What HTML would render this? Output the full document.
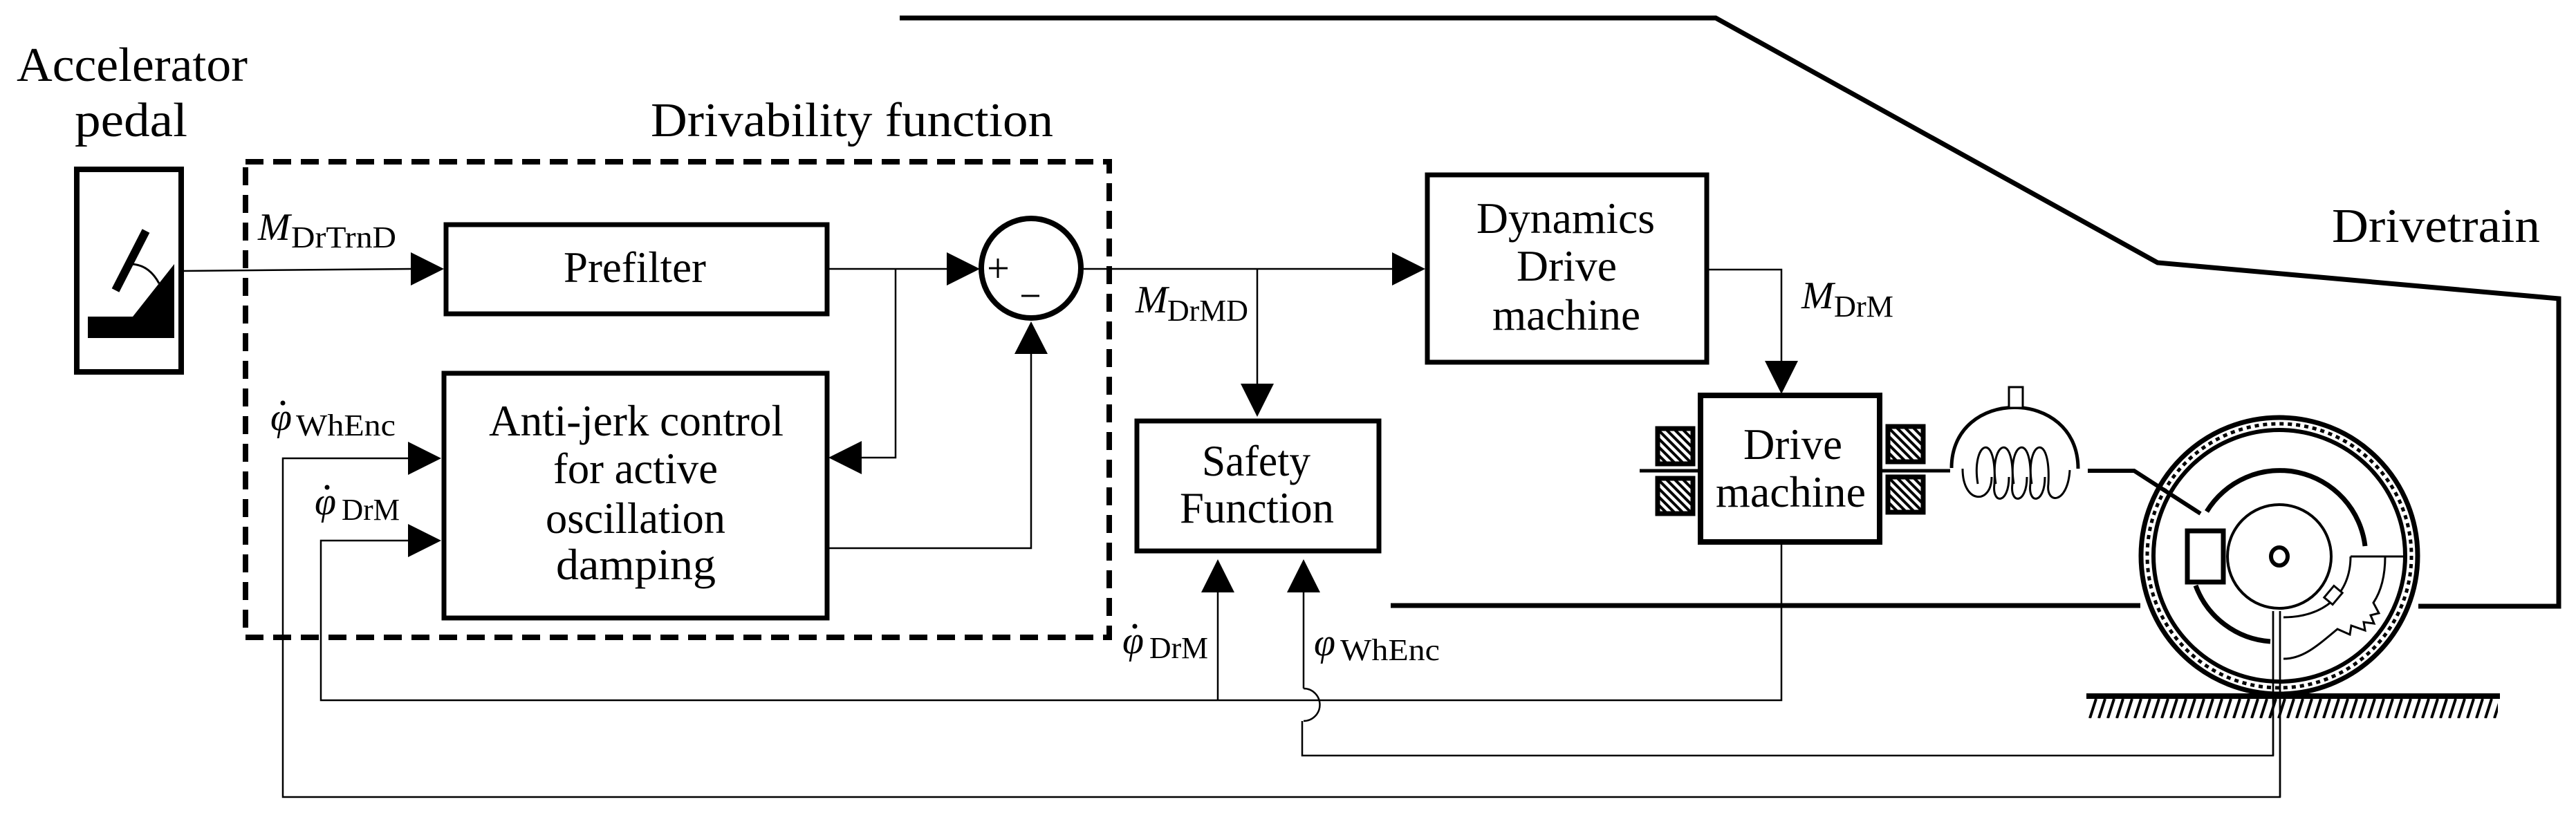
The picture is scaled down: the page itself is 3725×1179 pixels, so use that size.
<!DOCTYPE html>
<html><head><meta charset="utf-8"><style>
html,body{margin:0;padding:0;background:#fff;}
svg{display:block;}
text{font-family:"Liberation Serif",serif;fill:#000;}
.m{font-family:"Liberation Serif",serif;font-style:italic;}
.s{font-family:"Liberation Serif",serif;}
</style></head><body>
<svg width="3725" height="1179" viewBox="0 0 3725 1179" xmlns="http://www.w3.org/2000/svg">
<defs>
<pattern id="hatch" patternUnits="userSpaceOnUse" x="3020" y="1011" width="13" height="28">
<line x1="11" y1="0" x2="2" y2="28" stroke="#000" stroke-width="4"/>
</pattern>
<pattern id="stat" patternUnits="userSpaceOnUse" width="12" height="12">
<rect width="12" height="12" fill="#fff"/>
<path d="M0,0 L12,12 M-6,6 L6,18 M6,-6 L18,6" stroke="#000" stroke-width="4"/>
</pattern>
</defs>

<!-- Text -->
<text x="24" y="117" font-size="70" textLength="334" lengthAdjust="spacingAndGlyphs">Accelerator</text>
<text x="108" y="197" font-size="70" textLength="163" lengthAdjust="spacingAndGlyphs">pedal</text>
<text x="941" y="197" font-size="70" textLength="582" lengthAdjust="spacingAndGlyphs">Drivability function</text>
<text x="3372" y="350" font-size="70" textLength="301" lengthAdjust="spacingAndGlyphs">Drivetrain</text>

<!-- Pedal -->
<rect x="111" y="245" width="151" height="293" fill="none" stroke="#000" stroke-width="8"/>
<polygon points="127,458 192,458 252,382 252,489 127,489" fill="#000"/>
<line x1="167" y1="420" x2="211" y2="334" stroke="#000" stroke-width="12"/>
<path d="M188,382 Q215,382 230,410" fill="none" stroke="#000" stroke-width="3"/>

<!-- Dashed box -->
<rect x="355" y="234" width="1249" height="688" fill="none" stroke="#000" stroke-width="8" stroke-dasharray="26,14"/>

<!-- Prefilter -->
<rect x="645" y="325" width="551" height="129" fill="none" stroke="#000" stroke-width="7"/>
<text x="815" y="408" font-size="64" textLength="206" lengthAdjust="spacingAndGlyphs">Prefilter</text>

<!-- Anti-jerk -->
<rect x="642" y="540" width="554" height="354" fill="none" stroke="#000" stroke-width="7"/>
<text x="707" y="630" font-size="64" textLength="426" lengthAdjust="spacingAndGlyphs">Anti-jerk control</text>
<text x="800" y="699" font-size="64" textLength="238" lengthAdjust="spacingAndGlyphs">for active</text>
<text x="789" y="771" font-size="64" textLength="260" lengthAdjust="spacingAndGlyphs">oscillation</text>
<text x="804" y="838" font-size="64" textLength="231" lengthAdjust="spacingAndGlyphs">damping</text>

<!-- Sum -->
<circle cx="1491" cy="388" r="72" fill="none" stroke="#000" stroke-width="8"/>
<line x1="1430" y1="388" x2="1457" y2="388" stroke="#000" stroke-width="3"/>
<line x1="1443" y1="374" x2="1443" y2="402" stroke="#000" stroke-width="3"/>
<line x1="1477" y1="428" x2="1503" y2="428" stroke="#000" stroke-width="3"/>

<!-- Connectors -->
<g stroke="#000" stroke-width="2.5" fill="none">
<line x1="262" y1="392" x2="595" y2="389"/>
<line x1="1196" y1="389" x2="1370" y2="389"/>
<polyline points="1295,389 1295,662 1245,662"/>
<polyline points="1196,793 1491,793 1491,505"/>
<polyline points="591,663 409,663 409,1153 3297,1153 3297,884"/>
<polyline points="591,782 464,782 464,1013 2576,1013 2576,786"/>
<line x1="1567" y1="389" x2="2015" y2="389"/>
<line x1="1818" y1="389" x2="1818" y2="556"/>
<polyline points="2470,390 2576,390 2576,525"/>
<line x1="1761" y1="852" x2="1761" y2="1013"/>
<polyline points="1885,852 1885,996"/>
<path d="M1885,996 A23,23 0 0 1 1885,1043"/>
<polyline points="1883,1043 1883,1093 3287,1093 3287,884"/>
</g>

<!-- Arrowheads -->
<g fill="#000">
<polygon points="642,389 594,365 594,413"/>
<polygon points="1417,389 1369,365 1369,413"/>
<polygon points="1491,465 1467,512 1515,512"/>
<polygon points="1198,662 1246,638 1246,686"/>
<polygon points="638,663 590,639 590,687"/>
<polygon points="638,782 590,758 590,806"/>
<polygon points="2061,389 2013,365 2013,413"/>
<polygon points="1818,603 1794,555 1842,555"/>
<polygon points="2576,570 2552,522 2600,522"/>
<polygon points="1761,809 1737,857 1785,857"/>
<polygon points="1885,809 1861,857 1909,857"/>
</g>

<!-- Labels -->
<text class="m" x="373" y="347" font-size="56">M</text>
<text class="s" x="421" y="358" font-size="44" textLength="152" lengthAdjust="spacingAndGlyphs">DrTrnD</text>
<text class="m" x="391" y="622" font-size="56">φ</text><circle cx="409" cy="583" r="3.5"/>
<text class="s" x="428" y="630" font-size="44" textLength="144" lengthAdjust="spacingAndGlyphs">WhEnc</text>
<text class="m" x="455" y="744" font-size="56">φ</text><circle cx="473" cy="705" r="3.5"/>
<text class="s" x="494" y="752" font-size="44" textLength="84" lengthAdjust="spacingAndGlyphs">DrM</text>
<text class="m" x="1642" y="452" font-size="56">M</text>
<text class="s" x="1688" y="464" font-size="44" textLength="117" lengthAdjust="spacingAndGlyphs">DrMD</text>
<text class="m" x="2605" y="446" font-size="56">M</text>
<text class="s" x="2652" y="458" font-size="44" textLength="86" lengthAdjust="spacingAndGlyphs">DrM</text>
<text class="m" x="1623" y="945" font-size="56">φ</text><circle cx="1641" cy="906" r="3.5"/>
<text class="s" x="1662" y="952" font-size="44" textLength="85" lengthAdjust="spacingAndGlyphs">DrM</text>
<text class="m" x="1900" y="948" font-size="56">φ</text>
<text class="s" x="1938" y="955" font-size="44" textLength="144" lengthAdjust="spacingAndGlyphs">WhEnc</text>

<!-- Dynamics Drive machine -->
<rect x="2064" y="253" width="404" height="271" fill="none" stroke="#000" stroke-width="7"/>
<text x="2135" y="337" font-size="64" textLength="258" lengthAdjust="spacingAndGlyphs">Dynamics</text>
<text x="2193" y="406" font-size="64" textLength="145" lengthAdjust="spacingAndGlyphs">Drive</text>
<text x="2158" y="477" font-size="64" textLength="214" lengthAdjust="spacingAndGlyphs">machine</text>

<!-- Safety -->
<rect x="1644" y="609" width="350" height="188" fill="none" stroke="#000" stroke-width="7"/>
<text x="1738" y="688" font-size="64" textLength="157" lengthAdjust="spacingAndGlyphs">Safety</text>
<text x="1706" y="756" font-size="64" textLength="223" lengthAdjust="spacingAndGlyphs">Function</text>

<!-- Drive machine -->
<rect x="2459" y="572" width="259" height="212" fill="none" stroke="#000" stroke-width="8"/>
<text x="2521" y="664" font-size="64" textLength="143" lengthAdjust="spacingAndGlyphs">Drive</text>
<text x="2481" y="733" font-size="64" textLength="217" lengthAdjust="spacingAndGlyphs">machine</text>
<g fill="url(#stat)" stroke="#000" stroke-width="7">
<rect x="2397" y="620" width="51" height="51"/>
<rect x="2397" y="692" width="51" height="51"/>
<rect x="2730" y="617" width="51" height="51"/>
<rect x="2730" y="690" width="51" height="51"/>
</g>
<g stroke="#000" stroke-width="5" fill="none">
<line x1="2371" y1="681" x2="2457" y2="681"/>
<line x1="2720" y1="681" x2="2820" y2="681"/>
<path d="M2822,677 C2822,560 3005,560 3005,678"/>
</g>
<rect x="2905" y="560" width="20" height="30" fill="#fff" stroke="#000" stroke-width="3"/>
<g stroke="#000" stroke-width="3" fill="none">
<path d="M2838,678 C2838,730 2880,730 2880,690 M2860,700 C2850,640 2888,620 2884,700 C2880,730 2905,730 2905,690 M2886,700 C2876,640 2914,620 2910,700 C2906,730 2931,730 2931,690 M2912,700 C2902,640 2940,620 2936,700 C2932,730 2957,730 2957,690 M2938,700 C2928,640 2966,620 2962,700 C2958,730 2990,730 2993,680"/>
</g>

<!-- Chassis -->
<g stroke="#000" stroke-width="7" fill="none">
<polyline points="1301,26 2481,26 3120,380 3700,432 3700,877 3497,877"/>
<line x1="2011" y1="876" x2="3095" y2="876"/>
<polyline points="3019,681 3086,681 3182,743" stroke-width="6"/>
</g>

<!-- Wheel -->
<g fill="none" stroke="#000">
<circle cx="3296" cy="804" r="200" stroke-width="7"/>
<circle cx="3296" cy="804" r="191" stroke-width="5" stroke-dasharray="6,6"/>
<circle cx="3296" cy="804" r="182" stroke-width="6"/>
<path d="M3191,740 A124,124 0 0 1 3420,790" stroke-width="7"/>
<path d="M3175,847 A124,124 0 0 0 3283,928" stroke-width="7"/>
<circle cx="3296" cy="805" r="75" stroke-width="4"/>
<ellipse cx="3296" cy="805" rx="12" ry="13" stroke-width="6"/>
<rect x="3163" y="768" width="52" height="74" stroke-width="7" fill="#fff"/>
<line x1="3399" y1="805" x2="3479" y2="805" stroke-width="3"/>
<path d="M3399,805 C3399,860 3360,893 3302,893" stroke-width="3"/>
<path d="M3449,805 C3449,840 3440,860 3432,872 L3440,887 L3428,890 L3433,902 L3418,900 L3420,912 L3400,905 L3398,918 L3380,910 C3350,935 3330,953 3302,953" stroke-width="3"/>
<rect x="3366" y="850" width="16" height="22" transform="rotate(40 3374 861)" fill="#fff" stroke-width="3"/>
</g>
<line x1="3017" y1="1007" x2="3615" y2="1007" stroke="#000" stroke-width="8"/>
<rect x="3020" y="1011" width="592" height="28" fill="url(#hatch)"/>
<g stroke="#000" stroke-width="2.5">
<line x1="3287" y1="884" x2="3287" y2="1093"/>
<line x1="3297" y1="884" x2="3297" y2="1153"/>
</g>
</svg>
</body></html>
